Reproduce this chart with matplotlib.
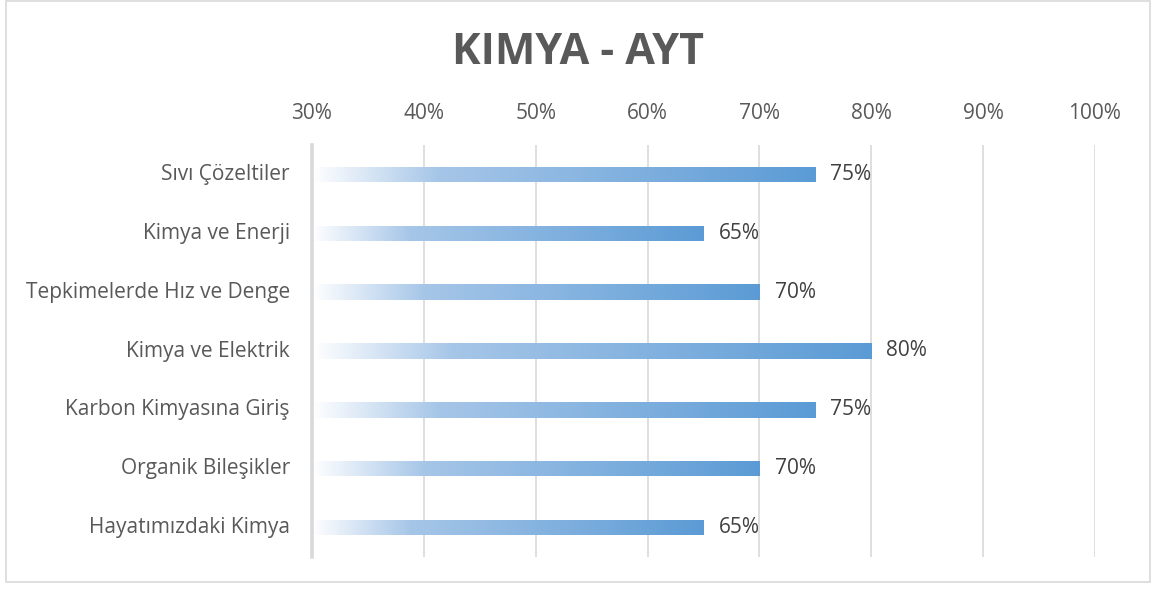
import matplotlib
matplotlib.use('Agg')
import matplotlib.pyplot as plt
import matplotlib.patches as mpatches
from matplotlib.colors import LinearSegmentedColormap
import numpy as np

plt.rcParams['font.family'] = ['Open Sans', 'DejaVu Sans']

# 数据
konular = [
    'Sıvı Çözeltiler',
    'Kimya ve Enerji',
    'Tepkimelerde Hız ve Denge',
    'Kimya ve Elektrik',
    'Karbon Kimyasına Giriş',
    'Organik Bileşikler',
    'Hayatımızdaki Kimya',
]
oranlar = [75, 65, 70, 80, 75, 70, 65]
x_ticks = [30, 40, 50, 60, 70, 80, 90, 100]

TEXT_GRAY = '#595959'
GRID_GRAY = '#d9d9d9'
FS = 15
grad = LinearSegmentedColormap.from_list(
    'bar_grad', [(0, '#ffffff'), (0.25, '#a6c6e8'), (1, '#5b9bd5')])

fig = plt.figure(figsize=(11.55, 5.9), dpi=100)
ax = fig.add_axes([312/1155, 33/590, (1095-312)/1155, (557-145)/590])

xmin, xmax = x_ticks[0], x_ticks[-1]
bar_h = 0.26
ramp = np.linspace(0, 1, 256).reshape(1, -1)

for i, val in enumerate(oranlar):
    bar = ax.barh(i, val, height=bar_h, color='none', edgecolor='none')[0]
    im = ax.imshow(ramp, cmap=grad, aspect='auto', interpolation='bicubic',
                   extent=[xmin, val, i + bar_h/2, i - bar_h/2], zorder=2)
    im.set_clip_path(bar)
    ax.text(val + 1.35, i, f'{val}%', ha='left', va='center',
            fontsize=FS, color='#404040', zorder=3)

ax.set_xlim(xmin, xmax)
ax.set_ylim(len(konular) - 0.5, -0.5)
ax.set_xticks(x_ticks)
ax.set_xticklabels([f'{t}%' for t in x_ticks], fontsize=FS, color=TEXT_GRAY)
ax.xaxis.tick_top()
ax.tick_params(axis='x', length=0, pad=15)
ax.set_yticks(range(len(konular)))
ax.set_yticklabels(konular, fontsize=FS, color=TEXT_GRAY, va='center')
ax.tick_params(axis='y', length=0, pad=16)

ax.grid(axis='x', color=GRID_GRAY, linewidth=1.2, zorder=0)
ax.set_axisbelow(True)
for s in ['top', 'right', 'bottom']:
    ax.spines[s].set_visible(False)
ax.spines['left'].set_color(GRID_GRAY)
ax.spines['left'].set_linewidth(2.6)
ax.spines['left'].set_zorder(4)

fig.text(578/1155, 1 - 53/590, 'KIMYA - AYT', ha='center', va='center',
         fontsize=31, fontweight='bold', color=TEXT_GRAY)

# 外框
fig.patches.append(mpatches.Rectangle((6/1155, 8/590), (1150-6)/1155, (589-8)/590,
                                      transform=fig.transFigure, fill=False,
                                      edgecolor=GRID_GRAY, linewidth=1.2))

fig.savefig('out.png', dpi=100, facecolor='white')
